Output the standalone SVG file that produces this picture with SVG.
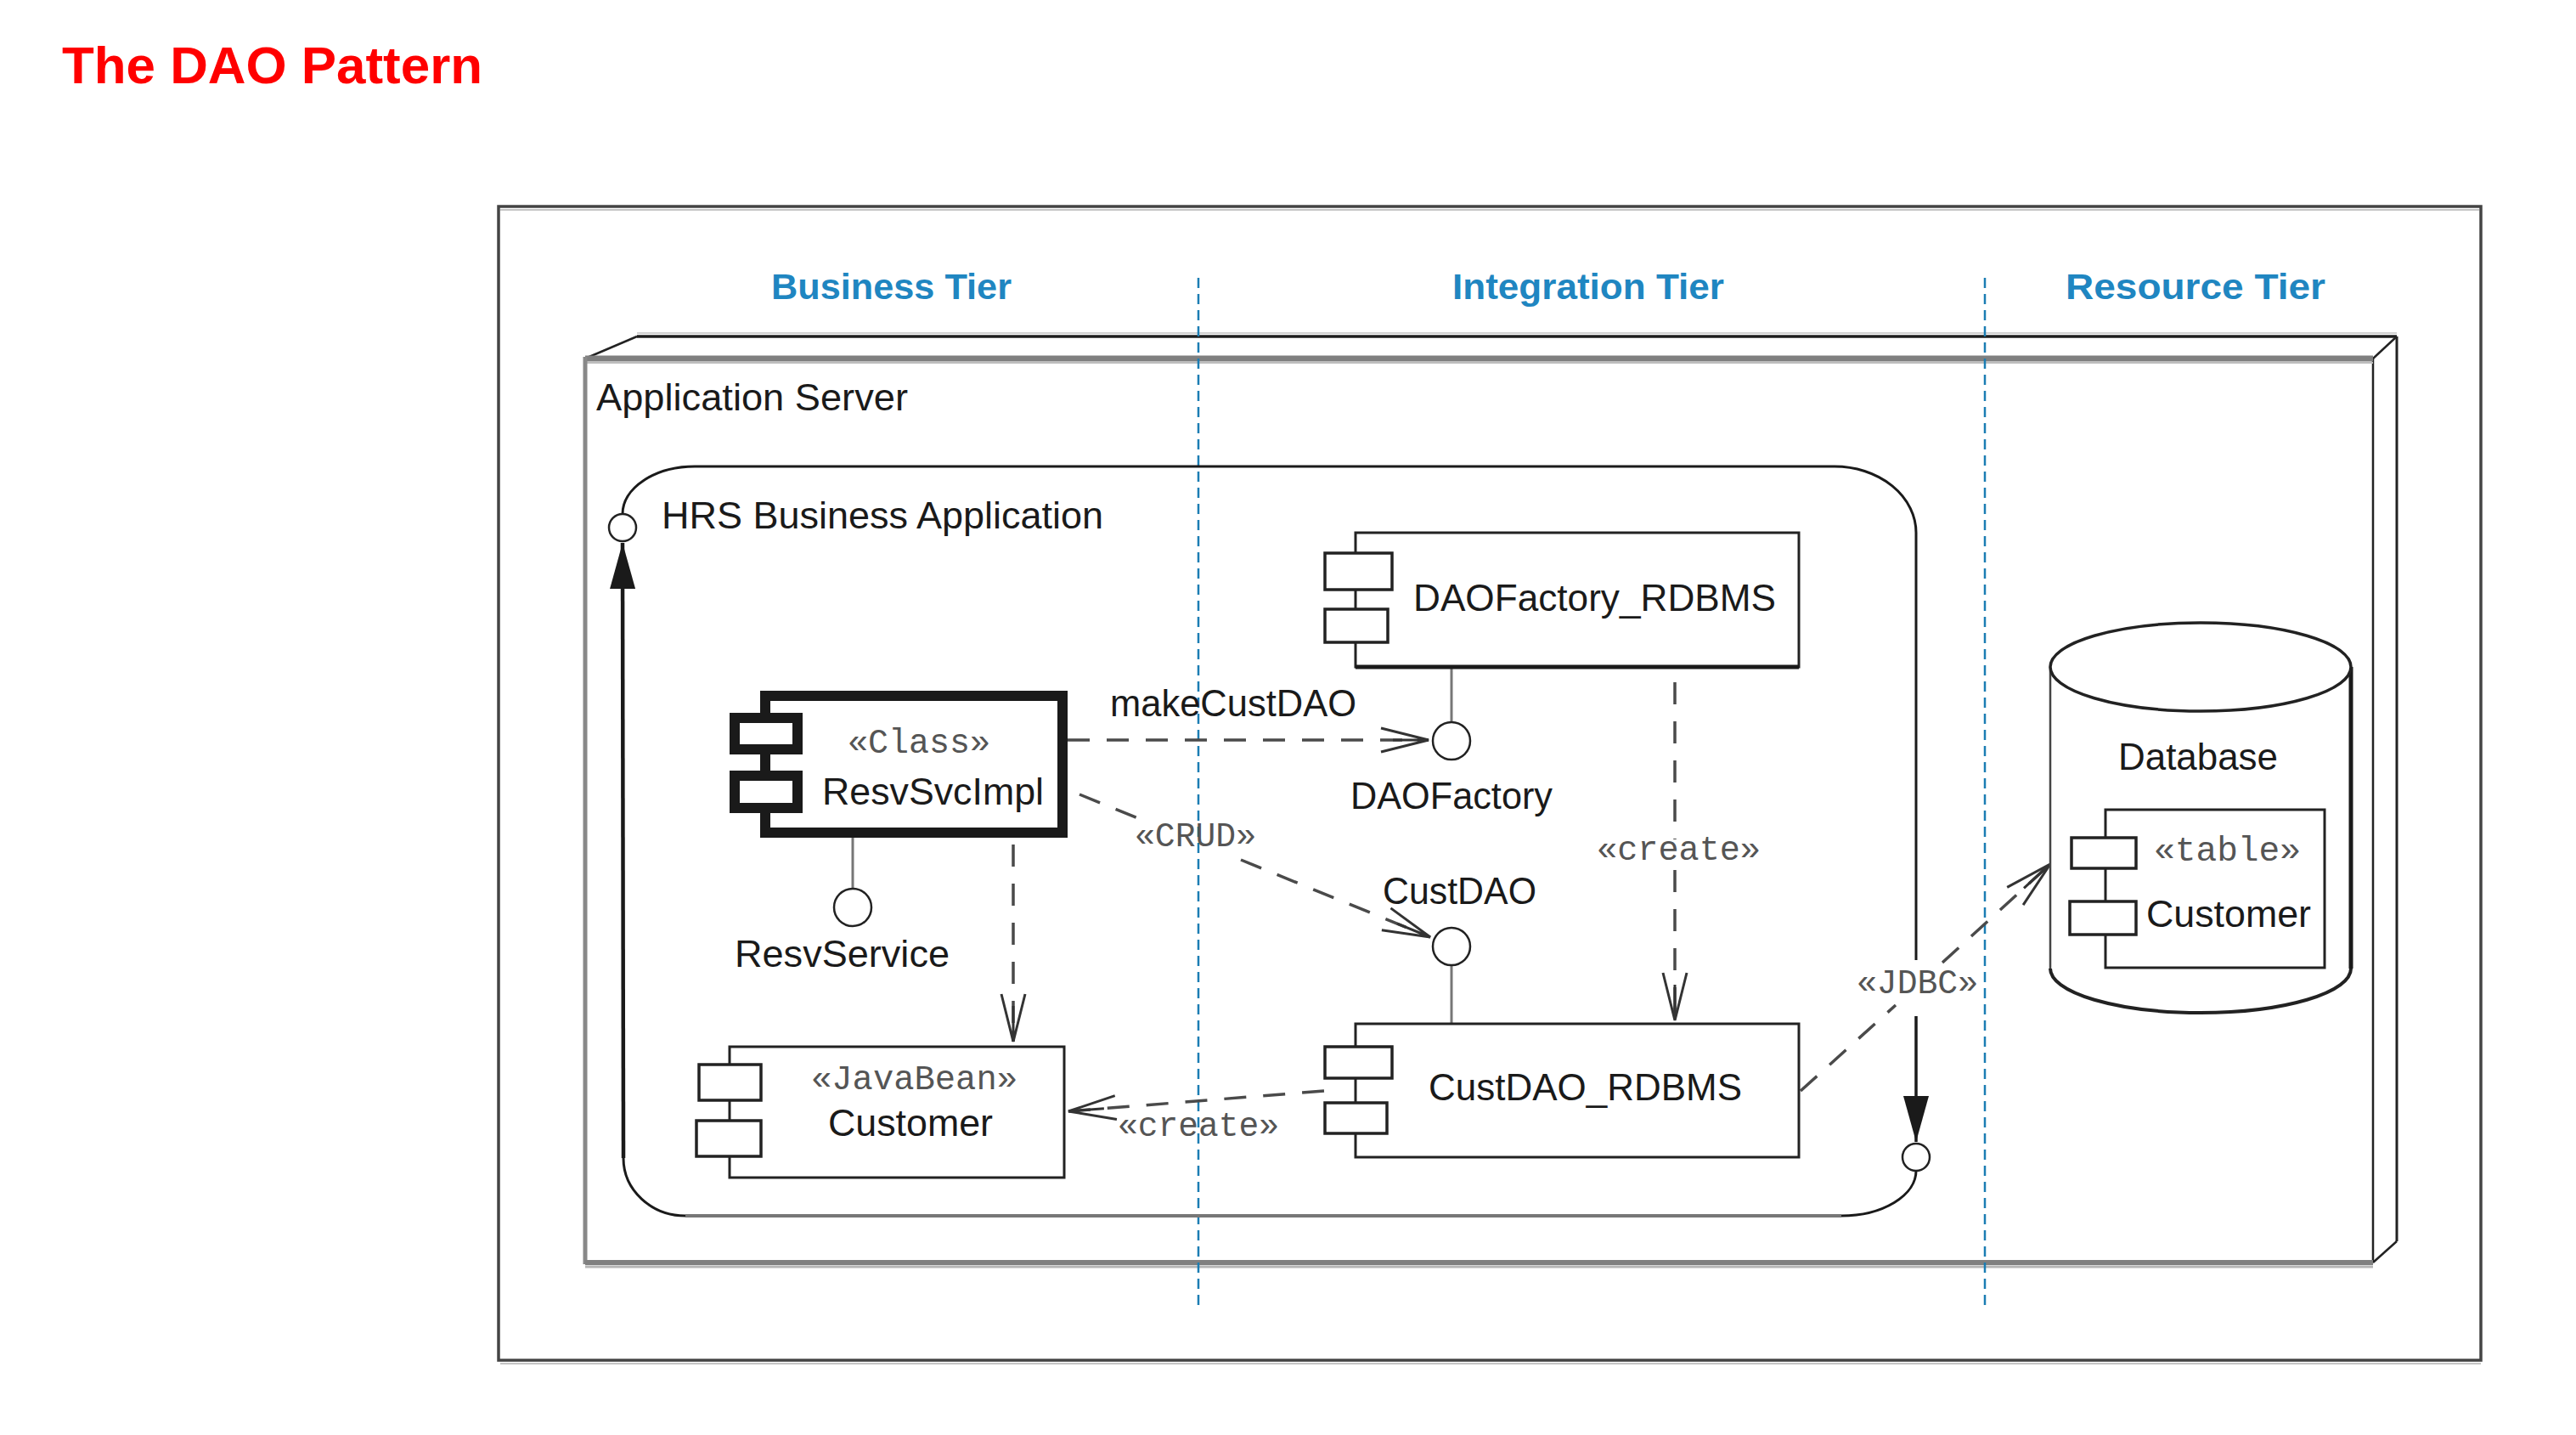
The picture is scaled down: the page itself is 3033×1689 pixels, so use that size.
<svg xmlns="http://www.w3.org/2000/svg" width="3033" height="1689" viewBox="0 0 3033 1689">
<style>
.t{font-family:"Liberation Sans",Arial,sans-serif;font-size:44px;fill:#1a1a1a}
.st{font-family:"Liberation Mono","Courier New",monospace;font-size:40px;fill:#555}
.tier{font-family:"Liberation Sans",Arial,sans-serif;font-size:43px;font-weight:bold;fill:#1f86c1}
.box{fill:#fff;stroke:#222;stroke-width:3}
.port{fill:#fff;stroke:#222;stroke-width:3.5}
.dep{fill:none;stroke:#4a4a4a;stroke-width:3.5;stroke-dasharray:26 20}
.tierline{fill:none;stroke:#1b7db3;stroke-width:2.5;stroke-dasharray:12 7}
.lol{fill:none;stroke:#777;stroke-width:3}
.circ{fill:#fff;stroke:#222;stroke-width:2.5}
.edge{fill:none;stroke:#1a1a1a;stroke-width:3}
</style>
<defs>
<marker id="open" viewBox="-62 -18 66 36" refX="0" refY="0" markerWidth="66" markerHeight="36" markerUnits="userSpaceOnUse" orient="auto">
<path d="M-56,-14 L0,0 L-56,14 M-42,0 L0,0" fill="none" stroke="#333" stroke-width="3"/>
</marker>
<marker id="solid" viewBox="-58 -18 60 36" refX="0" refY="0" markerWidth="60" markerHeight="36" markerUnits="userSpaceOnUse" orient="auto">
<path d="M-54,-15 L0,0 L-54,15 Z" fill="#1a1a1a"/>
</marker>
</defs>
<rect width="3033" height="1689" fill="#fff"/>

<text id="title" x="73" y="98" font-family="'Liberation Sans',Arial,sans-serif" font-weight="bold" font-size="61" fill="#f00" textLength="495" lengthAdjust="spacingAndGlyphs">The DAO Pattern</text>

<g id="frame">
<rect x="587" y="243" width="2334" height="1358" fill="none" stroke="#444" stroke-width="3.5"/>
<line x1="589" y1="247" x2="2919" y2="247" stroke="#c4c4c4" stroke-width="2"/>
<line x1="589" y1="1605" x2="2921" y2="1605" stroke="#c4c4c4" stroke-width="2"/>
</g>

<g id="tiers">
<text class="tier" x="908" y="352" textLength="283" lengthAdjust="spacingAndGlyphs">Business Tier</text>
<text class="tier" x="1710" y="352" textLength="320" lengthAdjust="spacingAndGlyphs">Integration Tier</text>
<text class="tier" x="2432" y="352" textLength="306" lengthAdjust="spacingAndGlyphs">Resource  Tier</text>
</g>

<g id="appserver">
<line x1="750" y1="396" x2="2822" y2="396" stroke="#1e1e1e" stroke-width="3.5"/>
<line x1="750" y1="392" x2="2822" y2="392" stroke="#d0d0d0" stroke-width="2"/>
<line x1="689" y1="422" x2="750" y2="396" stroke="#222" stroke-width="2.5"/>
<line x1="2794" y1="422" x2="2822" y2="396" stroke="#222" stroke-width="2.5"/>
<line x1="2822" y1="396" x2="2822" y2="1461" stroke="#222" stroke-width="3"/>
<line x1="2794" y1="1486" x2="2822" y2="1461" stroke="#222" stroke-width="2.5"/>
<line x1="2794" y1="422" x2="2794" y2="1486" stroke="#222" stroke-width="2.5"/>
<line x1="689" y1="422" x2="2794" y2="422" stroke="#7f7f7f" stroke-width="7"/>
<line x1="689" y1="427" x2="2794" y2="427" stroke="#bdbdbd" stroke-width="2"/>
<line x1="689" y1="420" x2="689" y2="1488" stroke="#888" stroke-width="5"/>
<line x1="689" y1="1486" x2="2794" y2="1486" stroke="#808080" stroke-width="6"/>
<line x1="689" y1="1491" x2="2794" y2="1491" stroke="#b5b5b5" stroke-width="3"/>
<text class="t" x="702" y="483" textLength="367" lengthAdjust="spacingAndGlyphs">Application Server</text>
</g>

<g id="tier-lines">
<line class="tierline" x1="1411" y1="327" x2="1411" y2="1539"/>
<line class="tierline" x1="2337" y1="327" x2="2337" y2="1539"/>
</g>

<g id="hrs-app">
<path class="edge" d="M733,605 A85,56 0 0 1 818,549 L2160,549 A96,78 0 0 1 2256,627 L2256,1130"/>
<path d="M2256,1196 L2256,1344" fill="none" stroke="#1a1a1a" stroke-width="3.5" marker-end="url(#solid)"/>
<circle class="circ" cx="2256" cy="1362" r="16"/>
<path class="edge" d="M2256,1378 A88,53 0 0 1 2168,1431"/>
<line x1="2168" y1="1431" x2="807" y2="1431" stroke="#777" stroke-width="4"/>
<path class="edge" d="M807,1431 A73,68 0 0 1 734,1363"/>
<path d="M734,1363 L733,639" fill="none" stroke="#1a1a1a" stroke-width="4.5" marker-end="url(#solid)"/>
<circle class="circ" cx="733" cy="621" r="16"/>
<text class="t" x="779" y="622" textLength="520" lengthAdjust="spacingAndGlyphs">HRS Business Application</text>
</g>

<g id="connectors">
<path class="dep" d="M1257,871 L1682,871" marker-end="url(#open)"/>
<path class="dep" d="M1271,935 L1342,964"/>
<path class="dep" d="M1461,1012 L1684,1103" marker-end="url(#open)"/>
<path class="dep" d="M1193,994 L1193,1226" marker-end="url(#open)"/>
<path class="dep" d="M1972,803 L1972,988"/>
<path class="dep" d="M1972,1024 L1972,1201" marker-end="url(#open)"/>
<path class="dep" d="M1559,1284 L1258,1308" marker-end="url(#open)"/>
<path class="dep" d="M2120,1284 L2232,1183"/>
<path class="dep" d="M2287,1133 L2414,1017" marker-end="url(#open)"/>
<line class="lol" x1="1004" y1="986" x2="1004" y2="1045"/>
<line class="lol" x1="1709" y1="786" x2="1709" y2="850"/>
<line class="lol" x1="1709" y1="1136" x2="1709" y2="1205"/>
<text class="t" x="1307" y="843" textLength="290" lengthAdjust="spacingAndGlyphs">makeCustDAO</text>
<text class="st" x="1336" y="996" textLength="143" lengthAdjust="spacingAndGlyphs">«CRUD»</text>
<text class="st" x="1880" y="1012" textLength="193" lengthAdjust="spacingAndGlyphs">«create»</text>
<text class="st" x="1316" y="1337" textLength="190" lengthAdjust="spacingAndGlyphs">«create»</text>
<text class="st" x="2186" y="1169" textLength="143" lengthAdjust="spacingAndGlyphs">«JDBC»</text>
</g>

<g id="resvsvcimpl">
<rect x="901" y="819" width="350" height="161" fill="#fff" stroke="#1a1a1a" stroke-width="12"/>
<rect x="865" y="845" width="74" height="37" fill="#fff" stroke="#1a1a1a" stroke-width="12"/>
<rect x="865" y="913" width="74" height="38" fill="#fff" stroke="#1a1a1a" stroke-width="12"/>
<text class="st" x="998" y="886" textLength="168" lengthAdjust="spacingAndGlyphs">«Class»</text>
<text class="t" x="968" y="947" textLength="261" lengthAdjust="spacingAndGlyphs">ResvSvcImpl</text>
</g>

<g id="resvservice">
<circle class="circ" cx="1004" cy="1068" r="22"/>
<text class="t" x="865" y="1138" textLength="253" lengthAdjust="spacingAndGlyphs">ResvService</text>
</g>

<g id="daofactory-rdbms">
<rect class="box" x="1596" y="627" width="522" height="158"/>
<line x1="1596" y1="785" x2="2118" y2="785" stroke="#1a1a1a" stroke-width="5"/>
<rect class="port" x="1560" y="651" width="79" height="43"/>
<rect class="port" x="1560" y="717" width="74" height="39"/>
<text class="t" x="1664" y="719" textLength="427" lengthAdjust="spacingAndGlyphs">DAOFactory_RDBMS</text>
</g>

<g id="daofactory">
<circle class="circ" cx="1709" cy="872" r="22"/>
<text class="t" x="1590" y="952" textLength="238" lengthAdjust="spacingAndGlyphs">DAOFactory</text>
</g>

<g id="custdao">
<circle class="circ" cx="1709" cy="1114" r="22"/>
<text class="t" x="1628" y="1064" textLength="181" lengthAdjust="spacingAndGlyphs">CustDAO</text>
</g>

<g id="custdao-rdbms">
<rect class="box" x="1596" y="1205" width="522" height="157"/>
<rect class="port" x="1560" y="1232" width="79" height="37"/>
<rect class="port" x="1560" y="1298" width="73" height="36"/>
<text class="t" x="1682" y="1295" textLength="369" lengthAdjust="spacingAndGlyphs">CustDAO_RDBMS</text>
</g>

<g id="javabean-customer">
<rect class="box" x="859" y="1232" width="394" height="154"/>
<rect class="port" x="823" y="1253" width="73" height="42"/>
<rect class="port" x="820" y="1319" width="76" height="42"/>
<text class="st" x="955" y="1282" textLength="243" lengthAdjust="spacingAndGlyphs">«JavaBean»</text>
<text class="t" x="975" y="1337" textLength="194" lengthAdjust="spacingAndGlyphs">Customer</text>
</g>

<g id="database">
<path d="M2414,785 L2414,1140 A177,52 0 0 0 2768,1140 L2768,785 Z" fill="#fff" stroke="none"/>
<line x1="2414" y1="785" x2="2414" y2="1140" stroke="#444" stroke-width="2.5"/>
<line x1="2768" y1="785" x2="2768" y2="1140" stroke="#1a1a1a" stroke-width="5"/>
<path d="M2414,1140 A177,52 0 0 0 2768,1140" fill="none" stroke="#222" stroke-width="4"/>
<ellipse cx="2591" cy="785" rx="177" ry="52" fill="#fff" stroke="#222" stroke-width="3.5"/>
<text class="t" x="2494" y="906" textLength="188" lengthAdjust="spacingAndGlyphs">Database</text>
</g>

<g id="customer-table">
<rect class="box" x="2479" y="953" width="258" height="186" stroke-width="3.5"/>
<rect class="port" x="2439" y="986" width="76" height="36"/>
<rect class="port" x="2437" y="1061" width="78" height="39"/>
<text class="st" x="2536" y="1013" textLength="173" lengthAdjust="spacingAndGlyphs">«table»</text>
<text class="t" x="2527" y="1091" textLength="194" lengthAdjust="spacingAndGlyphs">Customer</text>
</g>
</svg>
